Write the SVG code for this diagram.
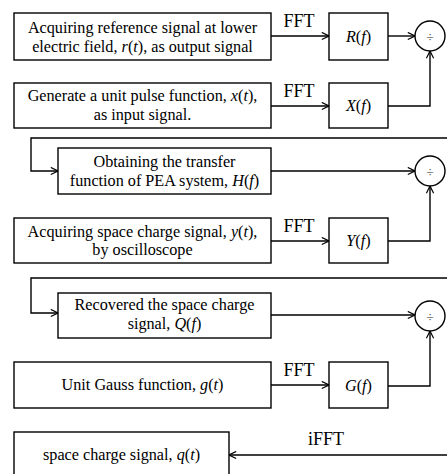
<svg xmlns="http://www.w3.org/2000/svg" width="447" height="474" viewBox="0 0 447 474">
  <style>
    .box { fill: #fff; stroke: #000; stroke-width: 1.4; }
    .ln { fill: none; stroke: #000; stroke-width: 1.4; }
    .t { font-family: "Liberation Serif", "Times New Roman", serif; font-size: 16.2px; fill: #000; text-anchor: middle; }
    .lab { font-family: "Liberation Serif", "Times New Roman", serif; font-size: 18px; fill: #000; text-anchor: middle; }
    .i { font-style: italic; }
    .div { font-family: "Liberation Serif", "Times New Roman", serif; font-size: 13px; fill: #222; text-anchor: middle; }
  </style>
  <defs>
    <marker id="arr" viewBox="0 0 10 10" refX="9" refY="5" markerWidth="9" markerHeight="9" markerUnits="userSpaceOnUse" orient="auto">
      <path d="M1,1 L9,5 L1,9" fill="none" stroke="#000" stroke-width="1.3"/>
    </marker>
  </defs>

  <rect width="447" height="474" fill="#fff"/>

  <!-- connectors -->
  <g id="connectors">
    <line class="ln" x1="271" y1="36" x2="329" y2="36" marker-end="url(#arr)"/>
    <line class="ln" x1="388" y1="36" x2="415" y2="36" marker-end="url(#arr)"/>
    <line class="ln" x1="271" y1="106" x2="329" y2="106" marker-end="url(#arr)"/>
    <polyline class="ln" points="388,106 430,106 430,51" marker-end="url(#arr)"/>
    <polyline class="ln" points="447,138 31,138 31,171 58,171" marker-end="url(#arr)"/>
    <line class="ln" x1="271" y1="171" x2="415" y2="171" marker-end="url(#arr)"/>
    <line class="ln" x1="271" y1="241" x2="329" y2="241" marker-end="url(#arr)"/>
    <polyline class="ln" points="388,241 430,241 430,186" marker-end="url(#arr)"/>
    <polyline class="ln" points="447,278 31,278 31,313 58,313" marker-end="url(#arr)"/>
    <line class="ln" x1="271" y1="315" x2="415" y2="315" marker-end="url(#arr)"/>
    <line class="ln" x1="271" y1="385" x2="329" y2="385" marker-end="url(#arr)"/>
    <polyline class="ln" points="388,386 430,386 430,331" marker-end="url(#arr)"/>
    <line class="ln" x1="447" y1="455" x2="229" y2="455" marker-end="url(#arr)"/>
    <text class="lab" x="299" y="27">FFT</text>
    <text class="lab" x="299" y="97">FFT</text>
    <text class="lab" x="299" y="232">FFT</text>
    <text class="lab" x="299" y="376">FFT</text>
    <text class="lab" x="326" y="445">iFFT</text>
  </g>

  <g id="ref-signal">
    <rect class="box" x="14" y="13" width="257" height="47"/>
    <text class="t" x="142.5" y="33">Acquiring reference signal at lower</text>
    <text class="t" x="142.5" y="52">electric field, <tspan class="i">r</tspan>(<tspan class="i">t</tspan>), as output signal</text>
  </g>
  <g id="R">
    <rect class="box" x="329" y="13" width="59" height="47"/>
    <text class="t" x="358.5" y="42"><tspan class="i">R</tspan>(<tspan class="i">f</tspan>)</text>
  </g>
  <g id="div1">
    <circle class="box" cx="430" cy="36" r="15"/>
    <text class="div" x="430" y="40.5">÷</text>
  </g>

  <g id="unit-pulse">
    <rect class="box" x="14" y="83" width="257" height="45"/>
    <text class="t" x="142.5" y="101">Generate a unit pulse function, <tspan class="i">x</tspan>(<tspan class="i">t</tspan>),</text>
    <text class="t" x="142.5" y="120">as input signal.</text>
  </g>
  <g id="X">
    <rect class="box" x="329" y="83" width="59" height="45"/>
    <text class="t" x="358.5" y="111"><tspan class="i">X</tspan>(<tspan class="i">f</tspan>)</text>
  </g>

  <g id="transfer">
    <rect class="box" x="58" y="148" width="213" height="46"/>
    <text class="t" x="164.5" y="167">Obtaining the transfer</text>
    <text class="t" x="164.5" y="186">function of PEA system, <tspan class="i">H</tspan>(<tspan class="i">f</tspan>)</text>
  </g>
  <g id="div2">
    <circle class="box" cx="430" cy="171" r="15"/>
    <text class="div" x="430" y="175.5">÷</text>
  </g>

  <g id="space-charge">
    <rect class="box" x="14" y="218" width="257" height="45"/>
    <text class="t" x="142.5" y="237">Acquiring space charge signal, <tspan class="i">y</tspan>(<tspan class="i">t</tspan>),</text>
    <text class="t" x="142.5" y="255">by oscilloscope</text>
  </g>
  <g id="Y">
    <rect class="box" x="329" y="218" width="59" height="45"/>
    <text class="t" x="358.5" y="246"><tspan class="i">Y</tspan>(<tspan class="i">f</tspan>)</text>
  </g>

  <g id="recovered">
    <rect class="box" x="58" y="293" width="213" height="45"/>
    <text class="t" x="164.5" y="310">Recovered the space charge</text>
    <text class="t" x="164.5" y="329">signal, <tspan class="i">Q</tspan>(<tspan class="i">f</tspan>)</text>
  </g>
  <g id="div3">
    <circle class="box" cx="430" cy="316" r="15"/>
    <text class="div" x="430" y="320.5">÷</text>
  </g>

  <g id="gauss">
    <rect class="box" x="14" y="362" width="257" height="46"/>
    <text class="t" x="142.5" y="390">Unit Gauss function, <tspan class="i">g</tspan>(<tspan class="i">t</tspan>)</text>
  </g>
  <g id="G">
    <rect class="box" x="329" y="362" width="59" height="46"/>
    <text class="t" x="358.5" y="391"><tspan class="i">G</tspan>(<tspan class="i">f</tspan>)</text>
  </g>

  <g id="result">
    <rect class="box" x="14" y="432" width="215" height="50"/>
    <text class="t" x="121.5" y="460">space charge signal, <tspan class="i">q</tspan>(<tspan class="i">t</tspan>)</text>
  </g>
</svg>
